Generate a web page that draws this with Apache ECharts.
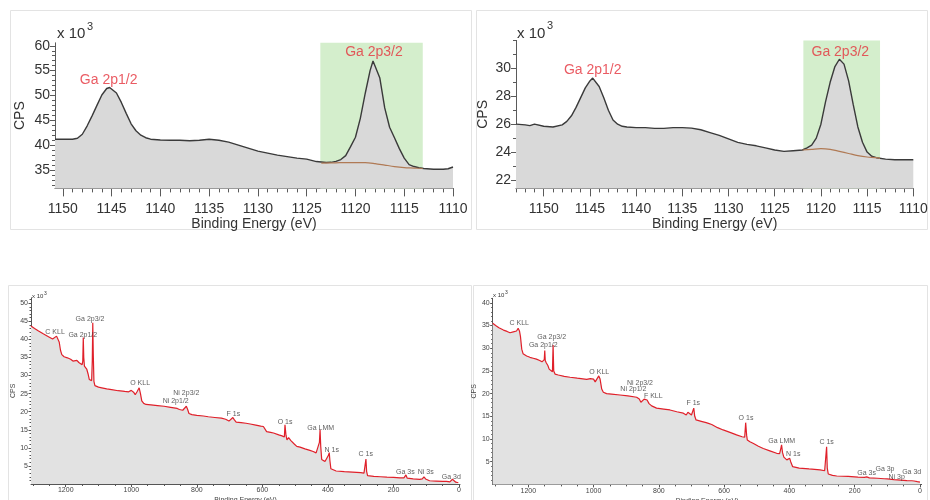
<!DOCTYPE html>
<html><head><meta charset="utf-8">
<script src="https://cdn.jsdelivr.net/npm/echarts@6/dist/echarts.min.js"></script>
<style>html,body{margin:0;padding:0;background:#fff}#c{width:930px;height:500px}</style>
</head><body><div id="c"></div>
<script>
const FONT = "'Liberation Sans', Arial, sans-serif";

// ---------- Top-left: Ga 2p high resolution (sample A) ----------
const tlEnergy = [1150.8,1150,1149,1148.5,1148,1147.5,1147,1146.5,1146,1145.5,1145.2,1145,1144.5,1144,1143.5,1143,1142.5,1142,1141.5,1141,1140,1139,1138,1137,1136,1135,1134,1133,1132,1131,1130,1129,1128,1127,1126,1125,1124,1123,1122.5,1122,1121.5,1121,1120.5,1120,1119.5,1119,1118.5,1118.2,1118,1117.5,1117,1116.5,1116,1115.5,1115,1114.5,1114,1113.5,1113,1112,1111,1110.5,1110];
const tlCps = [41.2,41.2,41.2,41.4,42.2,43.9,45.9,48.0,50.1,51.4,51.6,51.5,50.5,48.6,46.4,44.3,42.9,42.0,41.5,41.2,41.05,41.0,41.0,40.9,41.0,41.2,41.0,40.6,40.0,39.4,38.8,38.4,38.0,37.7,37.4,37.2,36.7,36.5,36.55,36.75,37.1,37.9,39.7,41.6,45.4,50.4,55.0,56.95,56.6,53.5,47.5,43.6,41.5,39.3,37.4,36.1,35.7,35.45,35.3,35.15,35.15,35.25,35.6];
const tlBgEnergy = [1123.5,1122,1121,1120,1119,1118,1117,1116,1115,1114,1113.1];
const tlBgCps = [36.4,36.45,36.5,36.5,36.5,36.3,36.0,35.7,35.5,35.4,35.3];
const tlFitRange = [1123.6, 1113.1];
const tlPeakNames = ['Ga 2p1/2','Ga 2p3/2'];
const tlPeakLabelE = [1145.3, 1118.1];
const tlPeakLabelCps = [53.1, 58.7];

// ---------- Top-right: Ga 2p high resolution (sample B) ----------
const trEnergy = [1153,1152,1151.5,1151,1150,1149,1148,1147.5,1147,1146.5,1146,1145.5,1145,1144.7,1144.5,1144,1143.5,1143,1142.5,1142,1141.5,1141,1140,1139,1138,1137,1136,1135,1134,1133,1132,1131,1130,1129,1128,1127,1126,1125,1124,1123,1122,1121.5,1121,1120.5,1120,1119.5,1119,1118.5,1118,1117.5,1117,1116.5,1116,1115.5,1115,1114.5,1114,1113,1112,1111,1110];
const trCps = [26.0,25.95,25.9,26.0,25.85,25.8,25.95,26.2,26.6,27.2,27.9,28.6,29.1,29.3,29.2,28.7,27.9,27.0,26.3,26.0,25.85,25.8,25.75,25.75,25.7,25.7,25.75,25.75,25.72,25.6,25.4,25.2,24.95,24.7,24.55,24.45,24.3,24.15,24.05,24.1,24.15,24.3,24.5,25.0,26.0,27.6,29.0,30.1,30.65,30.3,29.1,27.4,25.8,24.7,24.0,23.7,23.6,23.5,23.45,23.45,23.45];
const trBgEnergy = [1122,1121,1120,1119,1118,1117,1116,1115,1114,1113.6];
const trBgCps = [24.15,24.2,24.25,24.2,24.05,23.9,23.75,23.65,23.6,23.55];
const trFitRange = [1121.9, 1113.6];
const trPeakNames = ['Ga 2p1/2','Ga 2p3/2'];
const trPeakLabelE = [1144.7, 1117.9];
const trPeakLabelCps = [29.9, 31.15];

// ---------- Bottom-left: survey (sample A) ----------
const blEnergy = [1306,1295,1283,1270,1258,1250,1245,1240,1235,1228,1224,1220,1216,1212,1205,1195,1185,1178,1172,1166,1160,1155,1150,1148,1146.5,1145,1143,1140,1136,1132,1128,1124,1121,1119,1117.5,1116,1114,1111,1105,1100,1090,1075,1060,1040,1020,1008,1000,997,993,988,982,976,972,968,962,955,940,920,900,880,860,853,848,843,838,832,828,824,815,800,780,765,745,725,712,702,696,690,686,680,665,650,637,620,605,597,592,587,575,566,550,540,533,531,528,525,520,517,513,508,502,495,490,485,470,455,445,436,430,426,424,422,419,414,409,403,398,396,394,391,386,375,350,325,300,290,286,284,282,279,260,240,220,200,180,168,162,158,140,120,112,107,102,90,70,50,38,28,22,20,18,10,2];
const blCps = [43.7,43.0,42.3,41.6,41.0,40.6,40.8,40.1,40.3,40.9,40.6,39.3,37.0,35.8,35.2,34.9,34.5,34.0,33.7,34.2,33.6,33.2,33.0,34.0,40.5,35.0,32.6,32.2,31.8,30.5,28.9,28.5,28.6,34.0,44.6,36.0,28.4,27.2,27.0,26.8,26.6,26.3,26.1,25.8,25.6,25.5,25.9,26.1,25.4,24.7,25.6,26.6,25.0,23.0,22.3,22.0,21.9,21.7,21.5,21.2,20.9,20.6,20.1,20.4,20.9,21.5,20.6,19.5,19.2,19.0,18.8,18.6,18.4,18.2,17.9,17.4,17.5,18.4,17.8,17.1,17.0,16.8,16.6,16.3,16.0,15.9,15.4,14.5,14.3,14.1,13.6,13.3,13.0,16.4,13.5,12.2,12.8,13.0,12.0,11.7,11.0,10.4,10.8,10.2,9.7,9.3,9.0,8.6,9.0,11.5,15.0,10.5,6.8,6.4,6.2,6.5,8.0,8.7,6.5,4.2,3.8,3.6,3.4,3.3,3.15,3.0,3.2,6.9,3.5,2.3,2.1,2.0,1.9,1.85,1.7,1.7,2.5,1.6,1.4,1.3,1.4,2.0,1.4,0.9,0.8,0.7,0.7,0.6,1.0,1.3,0.9,0.5,0.35];
const blPeakNames = ['C KLL','Ga 2p1/2','Ga 2p3/2','O KLL','Ni 2p3/2','Ni 2p1/2','F 1s','O 1s','Ga LMM','N 1s','C 1s','Ga 3s','Ni 3s','Ga 3d'];
const blPeakLabelE = [1232.6,1148,1125.9,973,832,864.5,688.6,530.9,422,388.4,284.7,163.8,101.6,23.5];
const blPeakLabelCps = [41.9,41.1,45.6,27.8,25.2,22.9,19.4,17.0,15.5,9.4,8.3,3.3,3.3,2.0];

// ---------- Bottom-right: survey (sample B) ----------
const brEnergy = [1309,1300,1290,1276,1265,1256,1250,1246,1241,1236,1231,1227,1224,1220,1216,1205,1195,1185,1175,1165,1158,1153,1151,1149.5,1148,1145,1140,1136,1132,1126,1124,1122,1118,1108,1090,1072,1050,1021,1010,1006,1000,995,990,984,980,975,970,960,945,919,895,868,860,855,850,845,840,836,830,822,807,785,766,745,725,716,711,706,700,695,693,690,686,670,655,648,643,638,620,603,580,562,545,537,534,531,529,521,510,495,480,460,439,430,426,424,421,417,408,403,399,396,390,370,340,306,292,288,286,284,281,268,255,220,190,170,163,155,130,110,104,100,80,60,40,25,21,18,8,0];
const brCps = [35.5,35.0,34.5,34.0,33.7,33.4,33.7,33.6,33.2,33.8,34.4,33.8,32.6,29.8,28.8,28.3,28.0,27.8,27.6,27.3,27.0,26.8,27.5,29.5,27.3,26.8,26.2,25.4,25.0,24.8,30.7,25.0,24.3,24.1,23.8,23.6,23.4,23.15,23.3,23.7,23.2,22.6,23.0,23.9,23.2,21.0,20.3,20.0,19.9,19.7,19.5,19.2,18.8,18.1,18.2,18.8,19.2,18.6,17.8,17.3,16.8,16.6,16.4,16.0,15.7,15.3,15.9,15.6,15.3,15.4,16.8,15.0,14.2,13.9,13.6,13.45,13.8,13.2,12.5,12.0,11.4,10.9,10.5,10.4,13.6,10.8,9.8,9.4,9.0,8.4,7.9,7.4,6.85,6.8,8.0,8.7,7.0,6.0,5.4,5.5,5.75,5.0,3.9,3.6,3.4,3.2,3.0,3.4,8.3,3.6,2.3,2.0,1.85,1.75,1.6,1.55,1.65,1.45,1.35,1.25,1.4,1.2,1.05,0.95,0.85,0.8,1.0,0.75,0.6,0.5];
const brPeakNames = ['C KLL','Ga 2p3/2','Ga 2p1/2','O KLL','Ni 2p3/2','Ni 2p1/2','F KLL','F 1s','O 1s','Ga LMM','N 1s','C 1s','Ga 3s','Ga 3p','Ni 3p','Ga 3d'];
const brPeakLabelE = [1227.6,1128.4,1154,982.5,857.8,878,817,694.5,533,423.7,388.2,285.9,163.3,107.2,71.4,25.4];
const brPeakLabelCps = [35.6,32.4,30.7,24.8,22.3,20.9,19.5,18.0,14.6,9.6,6.6,9.4,2.6,3.4,1.6,2.7];

// ---------- Tick labels ----------
const topXTickLabels = [1110,1115,1120,1125,1130,1135,1140,1145,1150];
const tlYTickLabels = [35,40,45,50,55,60];
const trYTickLabels = [22,24,26,28,30];
const surveyXTickLabels = [0,200,400,600,800,1000,1200];
const blYTickLabels = [5,10,15,20,25,30,35,40,45,50];
const brYTickLabels = [5,10,15,20,25,30,35,40];

// ---------- helpers ----------
function pairs(xs, ys) { return xs.map((x, i) => [x, ys[i]]); }
function range(a, b, s) { const r = []; for (let v = a; v <= b + 1e-9; v += s) r.push(Math.round(v * 1000) / 1000); return r; }
function labelPoints(names, es, cs) { return names.map((n, i) => ({ name: n, value: [es[i], cs[i]] })); }
const plain = v => String(v);

const topStyle = { fs: 14, nameFs: 14, labelColor: '#333', axisColor: '#5a5a5a', majorX: 8, minorX: 4, majorY: 5, minorY: 3,
  xMargin: 14, yMargin: 5, yPad: [0, 0, 8, 0], peakColor: '#e5323c', peakFs: 14 };
const botStyle = { fs: 7, nameFs: 7, labelColor: '#444', axisColor: '#555', majorX: 3, minorX: 2, majorY: 2.5, minorY: 1.5,
  xMargin: 3, yMargin: 3, yPad: [0, 0, 0, 0], peakColor: '#333', peakFs: 7 };

const panels = [
  { grid: { left: 55, top: 42.8, width: 398, height: 145.6 }, xMin: 1110, xMax: 1150.8, yMin: 31.3, yMax: 60.6,
    xLabels: topXTickLabels, yLabels: tlYTickLabels, xMinor: range(1110, 1150, 1), yMinor: range(32, 60, 1),
    S: topStyle, xNameGap: 25, yNameGap: 28, data: pairs(tlEnergy, tlCps), bg: pairs(tlBgEnergy, tlBgCps), fit: tlFitRange,
    peaks: labelPoints(tlPeakNames, tlPeakLabelE, tlPeakLabelCps), line: '#3a3a3a', lw: 1.4, fill: '#d9d9d9' },
  { grid: { left: 516, top: 40.4, width: 397.3, height: 148 }, xMin: 1110, xMax: 1153, yMin: 21.4, yMax: 32,
    xLabels: topXTickLabels, yLabels: trYTickLabels, xMinor: range(1110, 1153, 1), yMinor: range(22, 32, 1),
    S: topStyle, xNameGap: 25, yNameGap: 26, data: pairs(trEnergy, trCps), bg: pairs(trBgEnergy, trBgCps), fit: trFitRange,
    peaks: labelPoints(trPeakNames, trPeakLabelE, trPeakLabelCps), line: '#3a3a3a', lw: 1.4, fill: '#d9d9d9' },
  { grid: { left: 31, top: 297.8, width: 429, height: 186.2 }, xMin: -3, xMax: 1306, yMin: 0, yMax: 51.5,
    xLabels: surveyXTickLabels, yLabels: blYTickLabels, xMinor: range(50, 1300, 50), yMinor: range(1, 51, 1),
    S: botStyle, xNameGap: 13, yNameGap: 12.5, data: pairs(blEnergy, blCps), bg: null, fit: null,
    peaks: labelPoints(blPeakNames, blPeakLabelE, blPeakLabelCps), line: '#e0202a', lw: 1.2, fill: '#e2e2e2' },
  { grid: { left: 492.7, top: 298.3, width: 428.9, height: 186.1 }, xMin: -5, xMax: 1309, yMin: 0, yMax: 41,
    xLabels: surveyXTickLabels, yLabels: brYTickLabels, xMinor: range(50, 1300, 50), yMinor: range(1, 41, 1),
    S: botStyle, xNameGap: 13, yNameGap: 13, data: pairs(brEnergy, brCps), bg: null, fit: null,
    peaks: labelPoints(brPeakNames, brPeakLabelE, brPeakLabelCps), line: '#e0202a', lw: 1.2, fill: '#e2e2e2' }
];

const grids = [], xAxes = [], yAxes = [], series = [];
panels.forEach((p, i) => {
  const S = p.S;
  grids.push(Object.assign({ containLabel: false, outerBoundsMode: 'none' }, p.grid));
  xAxes.push({ type: 'value', gridIndex: i, position: 'bottom', inverse: true, min: p.xMin, max: p.xMax,
    name: 'Binding Energy (eV)', nameLocation: 'middle', nameGap: p.xNameGap,
    nameTextStyle: { fontSize: S.nameFs, color: S.labelColor, fontFamily: FONT },
    axisLine: { show: true, onZero: false, lineStyle: { color: S.axisColor, width: 1 } },
    axisTick: { show: true, inside: false, length: S.majorX, customValues: p.xLabels, lineStyle: { color: S.axisColor } },
    axisLabel: { show: true, customValues: p.xLabels, formatter: plain, margin: S.xMargin, fontSize: S.fs, color: S.labelColor, fontFamily: FONT },
    splitLine: { show: false } });
  xAxes.push({ type: 'value', gridIndex: i, position: 'bottom', inverse: true, min: p.xMin, max: p.xMax,
    axisLine: { show: false, onZero: false },
    axisTick: { show: true, inside: false, length: S.minorX, customValues: p.xMinor, lineStyle: { color: S.axisColor } },
    axisLabel: { show: false }, splitLine: { show: false } });
  yAxes.push({ type: 'value', gridIndex: i, position: 'left', min: p.yMin, max: p.yMax,
    name: 'CPS', nameLocation: 'middle', nameGap: p.yNameGap,
    nameTextStyle: { fontSize: S.nameFs, color: S.labelColor, fontFamily: FONT },
    axisLine: { show: true, onZero: false, lineStyle: { color: S.axisColor, width: 1 } },
    axisTick: { show: true, inside: false, length: S.majorY, customValues: p.yLabels, lineStyle: { color: S.axisColor } },
    axisLabel: { show: true, customValues: p.yLabels, formatter: plain, margin: S.yMargin, padding: S.yPad, fontSize: S.fs, color: S.labelColor, fontFamily: FONT },
    splitLine: { show: false } });
  yAxes.push({ type: 'value', gridIndex: i, position: 'left', min: p.yMin, max: p.yMax,
    axisLine: { show: false, onZero: false },
    axisTick: { show: true, inside: false, length: S.minorY, customValues: p.yMinor, lineStyle: { color: S.axisColor } },
    axisLabel: { show: false }, splitLine: { show: false } });

  const main = { type: 'line', xAxisIndex: 2 * i, yAxisIndex: 2 * i, data: p.data, showSymbol: false, symbol: 'none',
    silent: true, z: 3, lineStyle: { color: p.line, width: p.lw },
    areaStyle: { color: p.fill, opacity: 1, origin: 'start' } };
  if (p.fit) {
    main.markArea = { silent: true, z: 1, label: { show: false },
      itemStyle: { color: 'rgb(212,238,204)' },
      data: [[{ xAxis: p.fit[0] }, { xAxis: p.fit[1] }]] };
  }
  series.push(main);
  if (p.bg) {
    series.push({ type: 'line', xAxisIndex: 2 * i, yAxisIndex: 2 * i, data: p.bg, showSymbol: false, symbol: 'none',
      silent: true, z: 4, smooth: 0.3, lineStyle: { color: '#b07a55', width: 1.2 } });
  }
  series.push({ type: 'scatter', xAxisIndex: 2 * i, yAxisIndex: 2 * i, data: p.peaks, symbolSize: 1, silent: true, z: 5,
    itemStyle: { color: 'rgba(0,0,0,0)' },
    label: { show: true, position: 'inside', formatter: '{b}', color: S.peakColor, fontSize: S.peakFs, fontFamily: FONT } });
});

function tenCubed(x, y, fs, supFs, supDx, supDy) {
  return [
    { type: 'text', x: x, y: y, style: { text: 'x 10', font: fs + 'px ' + FONT, fill: '#333', verticalAlign: 'middle', align: 'left' } },
    { type: 'text', x: x + supDx, y: y - supDy, style: { text: '3', font: supFs + 'px ' + FONT, fill: '#333', verticalAlign: 'middle', align: 'left' } }
  ];
}
const frameStyle = { fill: 'none', stroke: '#e3e3e3', lineWidth: 1 };
const graphics = [
  { type: 'rect', shape: { x: 10.5, y: 10.5, width: 461, height: 219 }, style: frameStyle, silent: true },
  { type: 'rect', shape: { x: 476.5, y: 10.5, width: 451, height: 219 }, style: frameStyle, silent: true },
  { type: 'rect', shape: { x: 8.5, y: 285.5, width: 463, height: 230 }, style: frameStyle, silent: true },
  { type: 'rect', shape: { x: 473.5, y: 285.5, width: 454, height: 230 }, style: frameStyle, silent: true }
].concat(tenCubed(57, 33.5, 15, 11, 30, 7))
 .concat(tenCubed(517, 33.5, 15, 11, 30, 8))
 .concat(tenCubed(32, 296.5, 6, 5, 12, 3))
 .concat(tenCubed(493, 295.5, 6, 5, 12, 3));

const chart = echarts.init(document.getElementById('c'), null, { renderer: 'canvas' });
chart.setOption({
  animation: false,
  backgroundColor: '#ffffff',
  textStyle: { fontFamily: FONT },
  grid: grids, xAxis: xAxes, yAxis: yAxes, series: series,
  graphic: graphics
});
</script>
</body></html>
